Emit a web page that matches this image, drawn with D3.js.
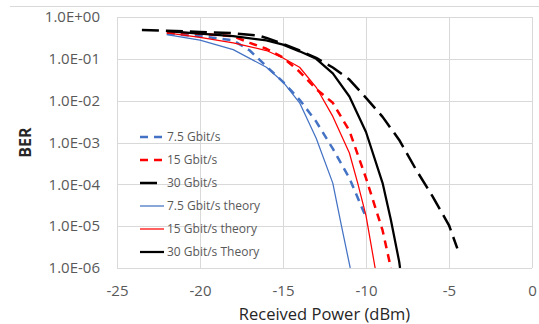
<!DOCTYPE html>
<html lang="en">
<head>
    <meta charset="utf-8">
    <title>BER vs received power</title>
    <script src="https://d3js.org/d3.v7.min.js"></script>
    <style>
        body { margin: 0; background: #fff; }
        svg text { font-family: 'Open Sans', sans-serif; }
    </style>
</head>
<body>
<div id="chart"></div>

<script>
/* global d3 */

// measured curves (received power in dBm, BER)
var power75 = [-22, -20, -18, -17, -16, -15, -14, -13, -12, -11, -10.05];
var ber75 = [0.398, 0.347, 0.275, 0.158, 0.066, 0.0282, 0.0105, 3.16e-3, 7.1e-4, 1.41e-4, 1.82e-5];

var power15 = [-22, -20, -18, -17, -16, -15, -14, -13, -12, -11, -10, -9, -8.5];
var ber15 = [0.427, 0.398, 0.347, 0.240, 0.174, 0.107, 0.049, 0.019, 8.9e-3, 1.9e-3, 1.41e-4, 7.9e-6, 1.0e-6];

var power30 = [-23.5, -22, -20, -18, -16.5, -16, -15, -14, -13, -12, -11, -10, -9, -8, -7, -6, -5, -4.5];
var ber30 = [0.49, 0.47, 0.44, 0.41, 0.36, 0.316, 0.229, 0.158, 0.105, 0.062, 0.032, 0.0117, 4.1e-3, 1.15e-3, 2.3e-4, 5.2e-5, 1.05e-5, 2.95e-6];

// theory curves
var power75t = [-22, -20, -18, -16, -15, -14, -13, -12, -11.5, -10.95];
var ber75t = [0.38, 0.28, 0.166, 0.063, 0.028, 8.9e-3, 1.26e-3, 1.07e-4, 1.12e-5, 1e-6];

var power15t = [-22, -20, -18, -16, -15, -14, -13, -12, -11, -10.5, -10, -9.45];
var ber15t = [0.417, 0.324, 0.240, 0.158, 0.105, 0.063, 0.0209, 4.2e-3, 5.6e-4, 1.07e-4, 1.78e-5, 1e-6];

var power30t = [-22, -20, -18, -16, -15, -14, -13, -12, -11, -10, -9, -8.5, -8, -7.95];
var ber30t = [0.457, 0.398, 0.347, 0.275, 0.219, 0.151, 0.1, 0.0447, 0.0126, 1.78e-3, 1.07e-4, 1.41e-5, 1.41e-6, 1e-6];

var seriesNames = ["7.5 Gbit/s", "15 Gbit/s", "30 Gbit/s", "7.5 Gbit/s theory", "15 Gbit/s theory", "30 Gbit/s Theory"];
var xTicks = [-25, -20, -15, -10, -5, 0];
var yTicks = [1, 1e-1, 1e-2, 1e-3, 1e-4, 1e-5, 1e-6];

var series = [
    {name: seriesNames[0], x: power75, y: ber75, color: "#4472C4", width: 2.5, dash: "8,6"},
    {name: seriesNames[1], x: power15, y: ber15, color: "#FF0000", width: 2.5, dash: "8,6"},
    {name: seriesNames[2], x: power30, y: ber30, color: "#000000", width: 2.5, dash: "17,7"},
    {name: seriesNames[3], x: power75t, y: ber75t, color: "#4472C4", width: 1.25, dash: null},
    {name: seriesNames[4], x: power15t, y: ber15t, color: "#FF0000", width: 1.25, dash: null},
    {name: seriesNames[5], x: power30t, y: ber30t, color: "#000000", width: 2.25, dash: null}
];

var width = 539,
    height = 324,
    margin = {top: 17, right: 7, bottom: 56, left: 117};

var svg = d3.select("#chart").append("svg")
    .attr("width", width)
    .attr("height", height);

var x = d3.scaleLinear().domain([-25, 0]).range([margin.left, width - margin.right]);
var y = d3.scaleLog().domain([1e-6, 1]).range([height - margin.bottom, margin.top]);

// chart area border (top edge only visible)
svg.append("line")
    .attr("x1", 10).attr("x2", width)
    .attr("y1", 6.5).attr("y2", 6.5)
    .attr("stroke", "#d9d9d9");

// grid
svg.append("g").selectAll("line").data(xTicks).join("line")
    .attr("x1", function(d) { return Math.round(x(d)) + 0.5; })
    .attr("x2", function(d) { return Math.round(x(d)) + 0.5; })
    .attr("y1", y(1)).attr("y2", y(1e-6))
    .attr("stroke", "#d9d9d9");

svg.append("g").selectAll("line").data(yTicks).join("line")
    .attr("x1", x(-25)).attr("x2", x(0))
    .attr("y1", function(d) { return Math.round(y(d)) + 0.5; })
    .attr("y2", function(d) { return Math.round(y(d)) + 0.5; })
    .attr("stroke", "#d9d9d9");

function fmtExp(d) {
    var e = Math.round(Math.log10(d));
    var s = e < 0 ? "-" : "+";
    var a = Math.abs(e);
    return "1.0E" + s + (a < 10 ? "0" : "") + a;
}

// axes
var yAxis = svg.append("g")
    .attr("transform", "translate(" + margin.left + ",0)")
    .call(d3.axisLeft(y).tickValues(yTicks).tickFormat(fmtExp).tickSize(0).tickPadding(17));
yAxis.select(".domain").remove();
yAxis.selectAll("text").attr("fill", "#595959").style("font-size", "15px");

var xAxis = svg.append("g")
    .attr("transform", "translate(0," + (height - margin.bottom) + ")")
    .call(d3.axisBottom(x).tickValues(xTicks).tickFormat(d3.format("d")).tickSize(0).tickPadding(17));
xAxis.select(".domain").remove();
xAxis.selectAll("text").attr("fill", "#595959").style("font-size", "15px")
    .text(function(d) { return d < 0 ? "-" + Math.abs(d) : d; });

svg.append("text")
    .attr("x", (x(-25) + x(0)) / 2)
    .attr("y", 320)
    .attr("text-anchor", "middle")
    .attr("fill", "#262626")
    .style("font-size", "16.5px")
    .text("Received Power (dBm)");

svg.append("text")
    .attr("transform", "translate(31," + ((y(1) + y(1e-6)) / 2) + ") rotate(-90)")
    .attr("text-anchor", "middle")
    .attr("fill", "#262626")
    .style("font-size", "16px")
    .style("font-weight", "bold")
    .text("BER");

// curves
svg.append("clipPath").attr("id", "plotClip")
    .append("rect")
    .attr("x", x(-25)).attr("y", y(1))
    .attr("width", x(0) - x(-25)).attr("height", y(1e-6) - y(1));

var line = d3.line()
    .x(function(d) { return x(d[0]); })
    .y(function(d) { return y(d[1]); });

svg.append("g").attr("clip-path", "url(#plotClip)")
    .selectAll("path").data(series).join("path")
    .attr("d", function(s) { return line(d3.zip(s.x, s.y)); })
    .attr("fill", "none")
    .attr("stroke", function(s) { return s.color; })
    .attr("stroke-width", function(s) { return s.width; })
    .attr("stroke-dasharray", function(s) { return s.dash; })
    .attr("stroke-linejoin", "round");

// legend
var legendY = [137, 160, 183, 206, 229, 252];
var legend = svg.append("g").selectAll("g").data(series).join("g")
    .attr("transform", function(s, i) { return "translate(140," + legendY[i] + ")"; });

legend.append("line")
    .attr("x1", 0).attr("x2", 24)
    .attr("stroke", function(s) { return s.color; })
    .attr("stroke-width", function(s) { return s.width; })
    .attr("stroke-dasharray", function(s) { return s.dash; });

legend.append("text")
    .attr("x", 27)
    .attr("dy", "0.35em")
    .attr("fill", "#595959")
    .style("font-size", "12px")
    .text(function(s) { return s.name; });

</script>
</body>
</html>
